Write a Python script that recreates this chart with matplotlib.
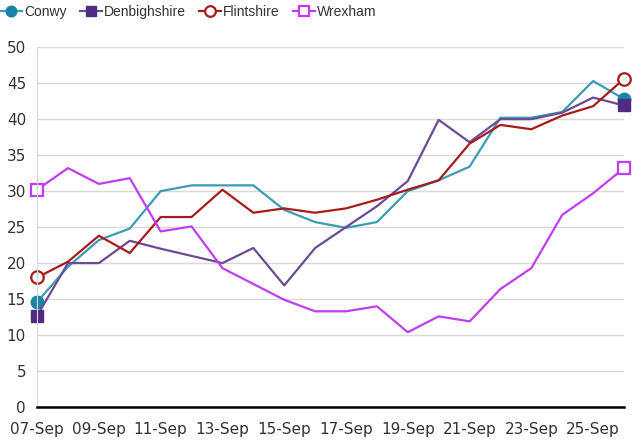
import matplotlib
matplotlib.use("Agg")
import matplotlib.pyplot as plt

days = ["07-Sep", "08-Sep", "09-Sep", "10-Sep", "11-Sep", "12-Sep", "13-Sep",
        "14-Sep", "15-Sep", "16-Sep", "17-Sep", "18-Sep", "19-Sep", "20-Sep",
        "21-Sep", "22-Sep", "23-Sep", "24-Sep", "25-Sep", "26-Sep"]

conwy = [14.6, 19.5, 23.2, 24.8, 30.0, 30.8, 30.8, 30.8, 27.4, 25.7,
         24.9, 25.7, 30.0, 31.5, 33.4, 40.2, 40.2, 41.0, 45.3, 42.8]
denbighshire = [12.7, 20.0, 20.0, 23.1, 22.0, 21.0, 20.0, 22.1, 16.9, 22.1,
                25.0, 27.9, 31.4, 39.9, 36.8, 40.0, 40.0, 40.9, 43.0, 41.9]
flintshire = [18.0, 20.2, 23.8, 21.4, 26.4, 26.4, 30.2, 27.0, 27.6, 27.0,
              27.6, 28.8, 30.2, 31.5, 36.6, 39.2, 38.6, 40.5, 41.8, 45.6]
wrexham = [30.2, 33.2, 31.0, 31.8, 24.4, 25.1, 19.3, 17.1, 14.9, 13.3,
           13.3, 14.0, 10.4, 12.6, 11.9, 16.4, 19.3, 26.7, 29.7, 33.2]

x = list(range(len(days)))

plt.rcParams["font.family"] = "DejaVu Sans"
fig = plt.figure(figsize=(6.4, 4.41), dpi=100)
ax = fig.add_axes([0.058, 0.077, 0.917, 0.816])

ax.plot(x, conwy, color="#3b9db4", lw=1.6, marker="o", markevery=[0, -1],
        ms=9, mfc="#1b83a6", mec="#1b83a6", label="Conwy")
ax.plot(x, denbighshire, color="#6a4b96", lw=1.6, marker="s", markevery=[0, -1],
        ms=9, mfc="#4e2d80", mec="#4e2d80", label="Denbighshire")
ax.plot(x, flintshire, color="#a61c1c", lw=1.6, marker="o", markevery=[0, -1],
        ms=9, mfc="white", mec="#a61c1c", mew=1.6, label="Flintshire")
ax.plot(x, wrexham, color="#bf3df5", lw=1.6, marker="s", markevery=[0, -1],
        ms=9, mfc="white", mec="#bf3df5", mew=1.6, label="Wrexham")

ax.set_xlim(0, 19)
ax.set_ylim(0, 50)
ax.set_yticks(range(0, 51, 5))
ax.set_xticks(x[::2])
ax.set_xticklabels(days[::2])
ax.grid(axis="y", color="#d9d9d9", lw=1)
ax.set_axisbelow(True)
ax.tick_params(axis="x", length=0, pad=11, labelsize=11, labelcolor="#333333")
ax.tick_params(axis="y", length=0, pad=8, labelsize=11, labelcolor="#333333")
for s in ["top", "right"]:
    ax.spines[s].set_visible(False)
ax.spines["left"].set_color("#d9d9d9")
ax.spines["bottom"].set_color("black")
ax.spines["bottom"].set_linewidth(1.8)
for ln in ax.lines:
    ln.set_clip_on(False)

fig.legend(loc="upper left", bbox_to_anchor=(-0.004, 0.995), ncol=4,
           frameon=False, prop={"family": "Liberation Sans", "size": 10},
           handlelength=1.6, handletextpad=0.12, borderpad=0.2,
           borderaxespad=0, columnspacing=0.95, labelcolor="#333333",
           markerscale=0.85)

fig.savefig("out.png", dpi=100)
